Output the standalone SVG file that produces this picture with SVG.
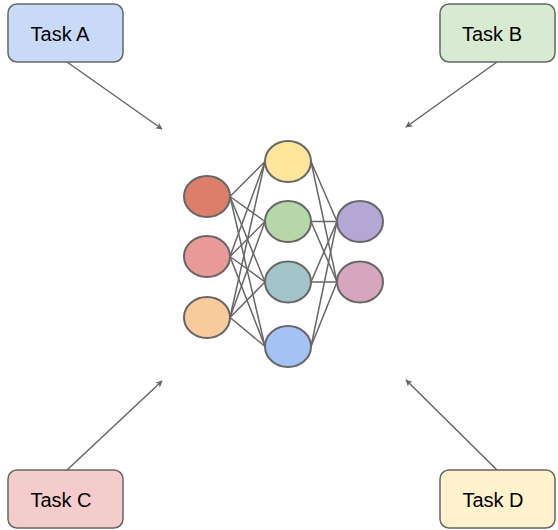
<svg xmlns="http://www.w3.org/2000/svg" width="558" height="530" viewBox="0 0 558 530">
  <defs>
    <marker id="arrow" viewBox="0 0 10 10" refX="9" refY="5" markerWidth="7" markerHeight="7" markerUnits="userSpaceOnUse" orient="auto">
      <path d="M0,0 L10,5 L0,10 L3,5 Z" fill="#666666"/>
    </marker>
    <style>
      .task rect { stroke: #666666; stroke-width: 1.5; }
      .task text { font-family: "Liberation Sans", Arial, sans-serif; font-size: 20px; fill: #000000; text-anchor: middle; }
      .neuron { stroke: #666666; stroke-width: 2; }
      .links line { stroke: #666666; stroke-width: 1.5; }
      .arrows line { stroke: #666666; stroke-width: 1.5; marker-end: url(#arrow); }
    </style>
  </defs>
  <rect width="558" height="530" fill="#ffffff"/>

  <!-- connectors: task arrows -->
  <g id="connectors">
    <g class="arrows">
      <line x1="67" y1="62" x2="162" y2="129"/>
      <line x1="497" y1="62" x2="406" y2="127"/>
      <line x1="67" y1="470" x2="162" y2="381"/>
      <line x1="497" y1="470" x2="406" y2="380"/>
    </g>
    <!-- network links: input -> hidden -->
    <g class="links">
      <line x1="230" y1="196.5" x2="265" y2="161.5"/>
      <line x1="230" y1="196.5" x2="265" y2="221.5"/>
      <line x1="230" y1="196.5" x2="265" y2="282"/>
      <line x1="230" y1="196.5" x2="265" y2="346.5"/>
      <line x1="230" y1="256.5" x2="265" y2="161.5"/>
      <line x1="230" y1="256.5" x2="265" y2="221.5"/>
      <line x1="230" y1="256.5" x2="265" y2="282"/>
      <line x1="230" y1="256.5" x2="265" y2="346.5"/>
      <line x1="230" y1="317.5" x2="265" y2="161.5"/>
      <line x1="230" y1="317.5" x2="265" y2="221.5"/>
      <line x1="230" y1="317.5" x2="265" y2="282"/>
      <line x1="230" y1="317.5" x2="265" y2="346.5"/>
      <!-- hidden -> output -->
      <line x1="311" y1="161.5" x2="337" y2="221.5"/>
      <line x1="311" y1="161.5" x2="337" y2="282"/>
      <line x1="311" y1="221.5" x2="337" y2="221.5"/>
      <line x1="311" y1="221.5" x2="337" y2="282"/>
      <line x1="311" y1="282" x2="337" y2="221.5"/>
      <line x1="311" y1="282" x2="337" y2="282"/>
      <line x1="311" y1="346.5" x2="337" y2="221.5"/>
      <line x1="311" y1="346.5" x2="337" y2="282"/>
    </g>
  </g>

  <!-- task boxes -->
  <g id="task-a" class="task">
    <rect x="8" y="4" width="115" height="58" rx="9" fill="#c9daf8"/>
    <text x="60" y="41">Task A</text>
  </g>
  <g id="task-b" class="task">
    <rect x="440" y="4" width="115" height="58" rx="9" fill="#d9ead3"/>
    <text x="492" y="41">Task B</text>
  </g>
  <g id="task-c" class="task">
    <rect x="8" y="470" width="115" height="58" rx="9" fill="#f4cccc"/>
    <text x="61" y="507">Task C</text>
  </g>
  <g id="task-d" class="task">
    <rect x="440" y="470" width="115" height="58" rx="9" fill="#fff2cc"/>
    <text x="493" y="507">Task D</text>
  </g>

  <!-- input layer -->
  <g id="in-1"><ellipse class="neuron" cx="207" cy="196.5" rx="23" ry="20.5" fill="#dd7e6b"/></g>
  <g id="in-2"><ellipse class="neuron" cx="207" cy="256.5" rx="23" ry="20.5" fill="#ea9999"/></g>
  <g id="in-3"><ellipse class="neuron" cx="207" cy="317.5" rx="23" ry="20.5" fill="#f9cb9c"/></g>

  <!-- hidden layer -->
  <g id="hid-1"><ellipse class="neuron" cx="288" cy="161.5" rx="23" ry="20.5" fill="#ffe599"/></g>
  <g id="hid-2"><ellipse class="neuron" cx="288" cy="221.5" rx="23" ry="20.5" fill="#b6d7a8"/></g>
  <g id="hid-3"><ellipse class="neuron" cx="288" cy="282" rx="23" ry="20.5" fill="#a2c4c9"/></g>
  <g id="hid-4"><ellipse class="neuron" cx="288" cy="346.5" rx="23" ry="20.5" fill="#a4c2f4"/></g>

  <!-- output layer -->
  <g id="out-1"><ellipse class="neuron" cx="360" cy="221.5" rx="23" ry="20.5" fill="#b4a7d6"/></g>
  <g id="out-2"><ellipse class="neuron" cx="360" cy="282" rx="23" ry="20.5" fill="#d5a6bd"/></g>
</svg>
